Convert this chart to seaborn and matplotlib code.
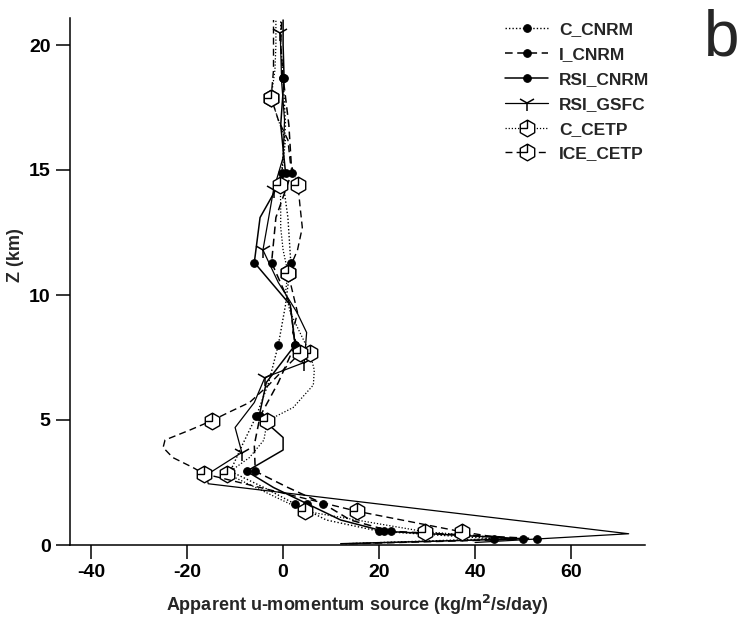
import numpy as np
import pandas as pd
import matplotlib
matplotlib.use("Agg")
import matplotlib.pyplot as plt
import seaborn as sns
from matplotlib.path import Path

# ---------------- data ----------------
series_names = ["C_CNRM", "I_CNRM", "RSI_CNRM", "RSI_GSFC", "C_CETP", "ICE_CETP"]

z_cnrm = [0.05, 0.25, 0.55, 1.0, 1.65, 2.3, 2.95, 4.0, 5.15, 6.5, 8.0, 9.6,
          11.3, 13.1, 14.9, 16.8, 18.7, 20.0, 21.0]
u_c_cnrm = [13, 44, 20, 9, 2.4, -4, -11.0, -8.5, -5.6, -3.0, -1.0, 0.5,
            1.6, 1.0, -0.3, 0.5, 0.0, -0.5, -0.5]
u_i_cnrm = [14, 53, 22.5, 14, 8.4, 1, -5.8, -6, -4.8, -1.0, 2.5, 1.5,
            -2.4, -1.5, 1.8, 1.2, 0.0, -0.5, -0.3]

z_rsi_cnrm = [0.05, 0.25, 0.55, 1.0, 1.65, 2.3, 2.95, 3.8, 4.3, 5.15, 6.5, 8.0,
              9.6, 11.3, 13.1, 14.9, 16.8, 18.7, 20.0, 21.0]
u_rsi_cnrm = [12, 50, 21, 12, 5, -2, -7.6, 0, 0, -5.0, -3.5, 2.5,
              1.5, -6.0, -4.8, 0.5, -0.5, 0.2, 0, 0]

z_rsi_gsfc = [0.1, 0.45, 2.45, 2.8, 3.7, 4.7, 5.7, 6.7, 7.3, 8.5, 9.3, 10.5,
              11.8, 13.1, 14.2, 15.5, 17.0, 18.5, 20.5]
u_rsi_gsfc = [40, 72, -15.6, -16, -8.6, -10, -6, -3.8, 4.4, 4.9, 2.9, -1,
              -4.2, -3, -2, 0, 0.3, -0.3, -0.6]

z_c_cetp = [0.3, 0.53, 1.35, 2.85, 3.5, 4.2, 4.97, 5.5, 6.4, 7.0, 7.67, 8.5,
            9.3, 10.1, 10.9, 11.8, 12.7, 13.6, 14.4, 15.3, 16.2, 17.0, 17.9,
            19.0, 20.0, 21.0]
u_c_cetp = [45, 29.6, 4.6, -11.7, -7, -4, -3.3, 2.1, 6.3, 6.5, 5.6, 3.5,
            1.5, 0.5, 1.0, 0.0, -0.5, -0.5, -0.6, 0, 0.5, -1, -2.5,
            -1.7, -1.5, -1.5]

z_ice_cetp = [0.2, 0.53, 1.35, 2.85, 3.1, 3.5, 3.9, 4.2, 4.6, 4.97, 5.3, 5.7,
              6.4, 7.0, 7.67, 8.5, 9.3, 10.1, 10.9, 11.8, 12.7, 13.6, 14.4,
              15.3, 16.2, 17.0, 17.9, 19.0, 20.0, 21.0]
u_ice_cetp = [48, 37.2, 15.4, -16.5, -18.8, -23, -25, -24.6, -19.4, -14.9, -11.4, -7,
              -3, 0, 3.5, 2.0, 3.0, 2.0, 1.0, 3.0, 4.0, 3.5, 3.1,
              1.5, 1.0, -1.0, -2.5, -2.0, -2.0, -2.0]

x_ticks = [-40, -20, 0, 20, 40, 60]
y_ticks = [0, 5, 10, 15, 20]

# ---------------- styling ----------------
sns.set_style("ticks")
plt.rcParams["font.family"] = ["Liberation Sans", "DejaVu Sans"]

# hexagon with two internal strokes (clock-like marker)
ang = np.deg2rad(np.arange(90, 450, 60))
hex_verts = [(np.cos(a), np.sin(a)) for a in ang]
verts = hex_verts + [hex_verts[0]] + [(0, 0), (0, 1.0), (0, 0), (-0.87, 0)]
codes = ([Path.MOVETO] + [Path.LINETO] * 5 + [Path.CLOSEPOLY]
         + [Path.MOVETO, Path.LINETO, Path.MOVETO, Path.LINETO])
hex_marker = Path(verts, codes)

fig = plt.figure(figsize=(7.38, 6.24), dpi=100)
ax = fig.add_axes([70 / 738, 79 / 624, 575 / 738, 527 / 624])

cnrm_mark = [1, 2, 4, 6, 8, 10, 12, 14, 16]
specs = [
    ("C_CNRM", u_c_cnrm, z_cnrm, dict(linestyle=(0, (1, 1.5)), marker="o", markersize=5.5,
                                       markevery=cnrm_mark, lw=1.0)),
    ("I_CNRM", u_i_cnrm, z_cnrm, dict(linestyle=(0, (5, 3)), marker="o", markersize=5.5,
                                       markevery=cnrm_mark, lw=1.1)),
    ("RSI_CNRM", u_rsi_cnrm, z_rsi_cnrm, dict(linestyle="-", marker="o", markersize=5.5,
                                               markevery=[1, 2, 4, 6, 9, 11, 13, 15, 17], lw=1.1)),
    ("RSI_GSFC", u_rsi_gsfc, z_rsi_gsfc, dict(linestyle="-", marker="1", markersize=12,
                                               markeredgewidth=1.1,
                                               markevery=[4, 7, 8, 12, 14, 18], lw=0.9)),
    ("C_CETP", u_c_cetp, z_c_cetp, dict(linestyle=(0, (1, 1.5)), marker=hex_marker,
                                         markersize=12, markerfacecolor="white",
                                         markeredgewidth=1.0,
                                         markevery=[1, 2, 3, 6, 10, 14, 18, 22], lw=0.9)),
    ("ICE_CETP", u_ice_cetp, z_ice_cetp, dict(linestyle=(0, (5, 3)), marker=hex_marker,
                                               markersize=12, markerfacecolor="white",
                                               markeredgewidth=1.0,
                                               markevery=[1, 2, 3, 9, 14, 18, 22, 26], lw=1.0)),
]

for name, u, z, kw in specs:
    df = pd.DataFrame({"u": u, "z": z})
    sns.lineplot(data=df, x="u", y="z", sort=False, estimator=None, ax=ax,
                 color="black", markeredgecolor="black", label=name, **kw)

ax.set_xlim(-44.4, 75.4)
ax.set_ylim(0, 21.08)
ax.set_xticks(x_ticks)
ax.set_yticks(y_ticks)
ax.set_xticklabels([str(t) for t in x_ticks])
ax.set_yticklabels([str(t) for t in y_ticks])
for s in ["top", "right"]:
    ax.spines[s].set_visible(False)
for s in ["left", "bottom"]:
    ax.spines[s].set_linewidth(1.1)
    ax.spines[s].set_color("black")
ax.tick_params(direction="out", length=10, width=1.1, color="black",
               labelsize=14, pad=4, labelcolor="black")
for lab in ax.get_xticklabels() + ax.get_yticklabels():
    lab.set_fontweight("bold")

ax.set_xlabel("Apparent u-momentum source (kg/m$^\\mathbf{2}$/s/day)",
              fontsize=13, fontweight="bold", labelpad=8)
ax.set_ylabel("Z (km)", fontsize=13, fontweight="bold")
ax.yaxis.set_label_coords(-0.08, 0.55)

handles, labels = ax.get_legend_handles_labels()
leg = ax.legend(handles, labels, loc="upper left",
                bbox_to_anchor=(505 / 738, 1 - 22 / 624), bbox_transform=fig.transFigure,
                frameon=False, fontsize=12.5, handlelength=2.5, handletextpad=0.6,
                labelspacing=0.56, borderpad=0, borderaxespad=0)
for t in leg.get_texts():
    t.set_fontweight("bold")

fig.text(704 / 738, 1 - 8 / 624, "b", fontsize=46, fontweight="normal",
         ha="left", va="top")

fig.savefig("out.png", dpi=100)
